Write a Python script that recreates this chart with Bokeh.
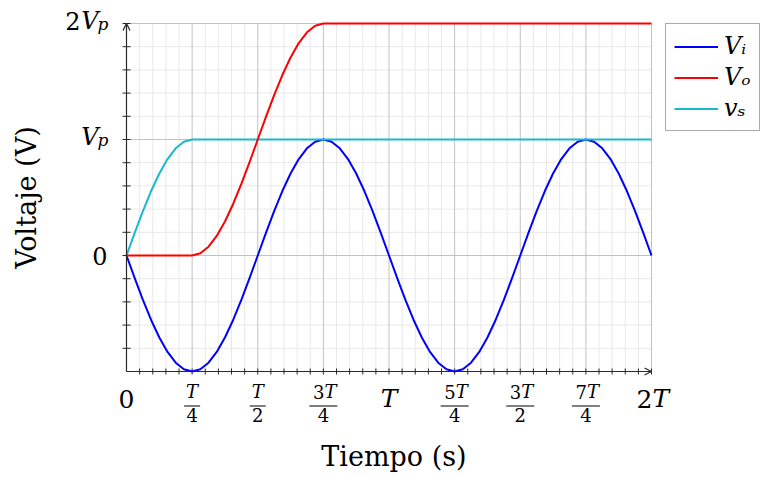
import math
from bokeh.plotting import figure
from bokeh.models import Range1d, Label, Legend, LegendItem, Arrow, OpenHead
from bokeh.embed import file_html
from bokeh.resources import INLINE

# ---------------- data (time in units of T, voltage in units of Vp) ----------------
t_vi = [0.0, 0.03125, 0.0625, 0.09375, 0.125, 0.15625, 0.1875, 0.21875,
        0.25, 0.28125, 0.3125, 0.34375, 0.375, 0.40625, 0.4375, 0.46875,
        0.5, 0.53125, 0.5625, 0.59375, 0.625, 0.65625, 0.6875, 0.71875,
        0.75, 0.78125, 0.8125, 0.84375, 0.875, 0.90625, 0.9375, 0.96875,
        1.0, 1.03125, 1.0625, 1.09375, 1.125, 1.15625, 1.1875, 1.21875,
        1.25, 1.28125, 1.3125, 1.34375, 1.375, 1.40625, 1.4375, 1.46875,
        1.5, 1.53125, 1.5625, 1.59375, 1.625, 1.65625, 1.6875, 1.71875,
        1.75, 1.78125, 1.8125, 1.84375, 1.875, 1.90625, 1.9375, 1.96875, 2.0]
vi = [0.0, -0.195, -0.383, -0.556, -0.707, -0.831, -0.924, -0.981,
      -1.0, -0.981, -0.924, -0.831, -0.707, -0.556, -0.383, -0.195,
      0.0, 0.195, 0.383, 0.556, 0.707, 0.831, 0.924, 0.981,
      1.0, 0.981, 0.924, 0.831, 0.707, 0.556, 0.383, 0.195,
      0.0, -0.195, -0.383, -0.556, -0.707, -0.831, -0.924, -0.981,
      -1.0, -0.981, -0.924, -0.831, -0.707, -0.556, -0.383, -0.195,
      0.0, 0.195, 0.383, 0.556, 0.707, 0.831, 0.924, 0.981,
      1.0, 0.981, 0.924, 0.831, 0.707, 0.556, 0.383, 0.195, 0.0]

t_vs = [0.0, 0.03125, 0.0625, 0.09375, 0.125, 0.15625, 0.1875, 0.21875, 0.25, 2.0]
vs = [0.0, 0.195, 0.383, 0.556, 0.707, 0.831, 0.924, 0.981, 1.0, 1.0]

t_vo = [0.0, 0.25, 0.28125, 0.3125, 0.34375, 0.375, 0.40625, 0.4375, 0.46875,
        0.5, 0.53125, 0.5625, 0.59375, 0.625, 0.65625, 0.6875, 0.71875, 0.75, 2.0]
vo = [0.0, 0.0, 0.019, 0.076, 0.169, 0.293, 0.444, 0.617, 0.805,
      1.0, 1.195, 1.383, 1.556, 1.707, 1.831, 1.924, 1.981, 2.0, 2.0]

series_labels = ["V\u1d62", "V\u2092", "v\u209b"]
series_colors = ["#0000ff", "#ff0000", "#17b9cf"]

# ticks
x_major = [0.0, 0.25, 0.5, 0.75, 1.0, 1.25, 1.5, 1.75, 2.0]
x_minor = [i / 20 for i in range(41)]
x_coef = ["0", "", "", "3", "", "5", "3", "7", "2"]
x_sym = ["", "T", "T", "T", "T", "T", "T", "T", "T"]
x_den = ["", "4", "2", "4", "", "4", "2", "4", ""]

y_major = [-1.0, 0.0, 1.0, 2.0]
y_minor = [-1.0 + i / 5 for i in range(16)]
y_lab_vals = [0.0, 1.0, 2.0]
y_coef = ["0", "", "2"]
y_sym = ["", "V", "V"]
y_sub = ["", "p", "p"]

x_title = "Tiempo (s)"
y_title = "Voltaje (V)"

FONT = "DejaVu Serif"
AX = "#2a2a2a"
GRID_MAJOR = "#c2c2c2"
GRID_MINOR = "#e8e8e8"
BASE_FIX = 9   # measured shift between requested and drawn baseline

# ---------------- layout (pixels) ----------------
W, H = 760, 477
L, R, T, B = 126, 651, 23, 371          # plot-area edges on the canvas
xa0, xa1 = x_major[0], x_major[-1]
ya0, ya1 = y_major[0], y_major[-1]
sx = (R - L) / (xa1 - xa0)              # px per T
sy = (B - T) / (ya1 - ya0)              # px per Vp

p = figure(width=W, height=H, output_backend="svg", toolbar_location=None,
           x_range=Range1d(xa0 - L / sx, xa1 + (W - R) / sx),
           y_range=Range1d(ya0 - (H - B) / sy, ya1 + T / sy),
           x_axis_location=None, y_axis_location=None, min_border=0)
p.outline_line_color = None
p.xgrid.visible = False
p.ygrid.visible = False
p.background_fill_color = "white"
p.border_fill_color = "white"

# grid
xm_only = [v for v in x_minor if v not in x_major]
ym_only = [v for v in y_minor if v not in y_major]
p.segment(x0=xm_only, y0=[ya0] * len(xm_only), x1=xm_only, y1=[ya1] * len(xm_only),
          line_color=GRID_MINOR, line_width=1)
p.segment(x0=[xa0] * len(ym_only), y0=ym_only, x1=[xa1] * len(ym_only), y1=ym_only,
          line_color=GRID_MINOR, line_width=1)
p.segment(x0=x_major, y0=[ya0] * len(x_major), x1=x_major, y1=[ya1] * len(x_major),
          line_color=GRID_MAJOR, line_width=1)
p.segment(x0=[xa0] * len(y_major), y0=y_major, x1=[xa1] * len(y_major), y1=y_major,
          line_color=GRID_MAJOR, line_width=1)

# axis ticks (crossing the axis lines)
tx = [v for v in x_minor if v != xa0]
p.segment(x0=tx, y0=[ya0 - 3 / sy] * len(tx), x1=tx, y1=[ya0 + 3 / sy] * len(tx),
          line_color=AX, line_width=1)
ty = [v for v in y_minor if v != ya0]
p.segment(x0=[xa0 - 4 / sx] * len(ty), y0=ty, x1=[xa0 + 4 / sx] * len(ty), y1=ty,
          line_color=AX, line_width=1)

# axis lines with arrow heads
p.add_layout(Arrow(end=OpenHead(size=7, line_color=AX, line_width=1.3),
                   x_start=xa0, y_start=ya0, x_end=xa1, y_end=ya0, line_color=AX, line_width=1.2))
p.add_layout(Arrow(end=OpenHead(size=7, line_color=AX, line_width=1.3),
                   x_start=xa0, y_start=ya0, x_end=xa0, y_end=ya1, line_color=AX, line_width=1.2))

# curves (draw order: Vi, vs, Vo)
r_vi = p.line(t_vi, vi, line_color=series_colors[0], line_width=2, line_join="round")
r_vs = p.line(t_vs, vs, line_color=series_colors[2], line_width=2, line_join="round")
r_vo = p.line(t_vo, vo, line_color=series_colors[1], line_width=2, line_join="round")


def lab(x, y, text, size, style="normal", align="center", xo=0, yo=0, angle=0.0):
    if angle == 0.0:
        yo += BASE_FIX
    else:
        xo -= BASE_FIX
    p.add_layout(Label(x=x, y=y, text=text, text_font=FONT, text_font_size=f"{size}px",
                       text_font_style=style, text_align=align, text_baseline="alphabetic",
                       x_offset=xo, y_offset=yo, text_color="black", angle=angle))


def composite(x, y, coef, sym, size, yo):
    if coef and sym:
        lab(x, y, coef, size, "normal", "right", 1, yo)
        lab(x, y, sym, size, "italic", "left", 1, yo)
    elif coef:
        lab(x, y, coef, size, "normal", "center", 0, yo)
    else:
        lab(x, y, sym, size, "italic", "center", 0, yo)


# x tick labels
bx0, bx1, by = [], [], []
for v, c, s, d in zip(x_major, x_coef, x_sym, x_den):
    if d == "":
        composite(v, ya0, c, s, 25, -36)
    else:
        composite(v, ya0, c, s, 18, -29)
        hw = (14 if c else 8) / sx
        bx0.append(v - hw)
        bx1.append(v + hw)
        by.append(ya0 - 34.5 / sy)
        lab(v, ya0, d, 18, "normal", "center", 0, -52)
p.segment(x0=bx0, y0=by, x1=bx1, y1=by, line_color="black", line_width=1)

# y tick labels
for v, c, s, sb in zip(y_lab_vals, y_coef, y_sym, y_sub):
    if sb:
        lab(xa0, v, sb, 17, "italic", "right", -18, -9)
        lab(xa0, v, s, 24, "italic", "right", -28, -6)
        if c:
            lab(xa0, v, c, 24, "normal", "right", -46, -6)
    else:
        lab(xa0, v, c, 24, "normal", "right", -19, -9)

# axis titles
lab((xa0 + xa1) / 2, ya0, x_title, 27, "normal", "center", 5, -94)
lab(xa0, (ya0 + ya1) / 2, y_title, 27, "normal", "center", -(L - 35), 0, math.pi / 2)

legend = Legend(items=[LegendItem(label=series_labels[0], renderers=[r_vi]),
                       LegendItem(label=series_labels[1], renderers=[r_vo]),
                       LegendItem(label=series_labels[2], renderers=[r_vs])],
                location=(665, H - 131))
legend.label_text_font = FONT
legend.label_text_font_size = "24px"
legend.label_text_font_style = "italic"
legend.label_text_color = "black"
legend.glyph_width = 44
legend.glyph_height = 25
legend.label_height = 25
legend.label_standoff = 6
legend.padding = 8
legend.spacing = 3
legend.margin = 0
legend.border_line_color = "#555555"
legend.border_line_width = 1
legend.background_fill_color = "white"
legend.background_fill_alpha = 1
p.add_layout(legend, "center")

open("out.html", "w").write(file_html(p, INLINE))
